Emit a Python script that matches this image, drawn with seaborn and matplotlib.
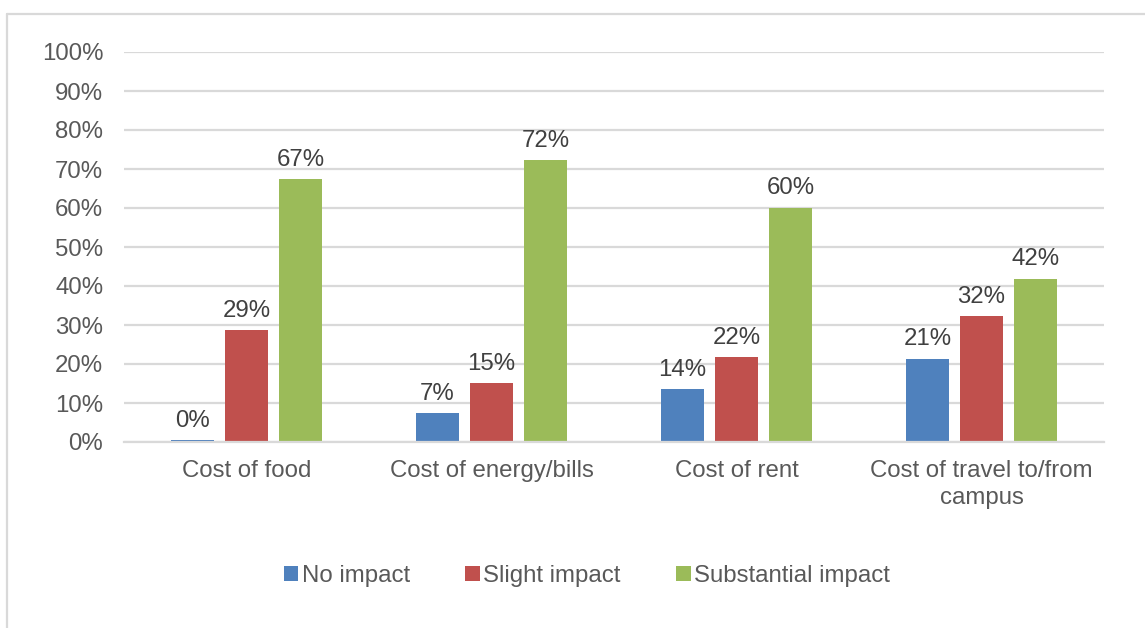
# =============================================================================
# 1. Librerías
# =============================================================================
import pandas as pd
import matplotlib
matplotlib.use("Agg")
import matplotlib.pyplot as plt
from matplotlib.lines import Line2D
import seaborn as sns

# =============================================================================
# 2. Datos (en %)
# =============================================================================
categorias = ['Cost of food', 'Cost of energy/bills', 'Cost of rent',
              'Cost of travel to/from\ncampus']
series = ['No impact', 'Slight impact', 'Substantial impact']
no_impact = [0.4, 7.4, 13.6, 21.4]
slight_impact = [28.7, 15.1, 21.8, 32.2]
substantial_impact = [67.4, 72.3, 60.1, 41.9]
colores = ['#4F81BD', '#C0504D', '#9BBB59']

df = pd.DataFrame({
    'Categoria': categorias * 3,
    'Impacto': [s for s in series for _ in categorias],
    'Valor': no_impact + slight_impact + substantial_impact,
})

# =============================================================================
# 3. Visualización
# =============================================================================
sns.set_theme(style="white")
plt.rcParams['font.family'] = ['Liberation Sans', 'DejaVu Sans']
gris_texto = '#595959'
gris_linea = '#D9D9D9'
fs = 17.3

fig = plt.figure(figsize=(11.45, 6.28), dpi=100)
ax = fig.add_axes([124 / 1145, 1 - 442 / 628, 980 / 1145, 390 / 628])

sns.barplot(data=df, x='Categoria', y='Valor', hue='Impacto',
            palette=colores, width=0.661, gap=0.2, linewidth=0,
            saturation=1, ax=ax)

for cont in ax.containers:
    ax.bar_label(cont, fmt='{:.0f}%', padding=6, fontsize=fs, color='#404040')

ax.set_ylim(0, 100)
ax.set_xlim(-0.5, 3.5)
ax.set_yticks(range(0, 101, 10))
ax.set_yticklabels([f'{v}%' for v in range(0, 101, 10)])
ax.yaxis.grid(True, color=gris_linea, linewidth=1.6)
ax.set_axisbelow(True)
ax.set_xlabel('')
ax.set_ylabel('')
for lado in ['top', 'right', 'left']:
    ax.spines[lado].set_visible(False)
ax.spines['bottom'].set_color(gris_linea)
ax.spines['bottom'].set_linewidth(1.6)
ax.tick_params(axis='y', length=0, pad=15, labelsize=fs, labelcolor=gris_texto)
ax.tick_params(axis='x', length=0, pad=13, labelsize=fs, labelcolor=gris_texto)
for t in ax.get_xticklabels():
    t.set_linespacing(1.3)

ax.legend(loc='center', bbox_to_anchor=(587 / 1145, 1 - 576 / 628),
          bbox_transform=fig.transFigure, ncol=3, frameon=False,
          fontsize=fs, labelcolor=gris_texto, handlelength=0.6,
          handleheight=0.6, handletextpad=0.15, columnspacing=2.3)

# Borde del área del gráfico (solo se ven el lado izquierdo y el superior)
fig.add_artist(Line2D([7 / 1145, 7 / 1145], [0, 1 - 14 / 628],
                      transform=fig.transFigure, color=gris_linea, lw=1.6))
fig.add_artist(Line2D([7 / 1145, 1], [1 - 14 / 628, 1 - 14 / 628],
                      transform=fig.transFigure, color=gris_linea, lw=1.6))

fig.savefig('out.png', dpi=100)
